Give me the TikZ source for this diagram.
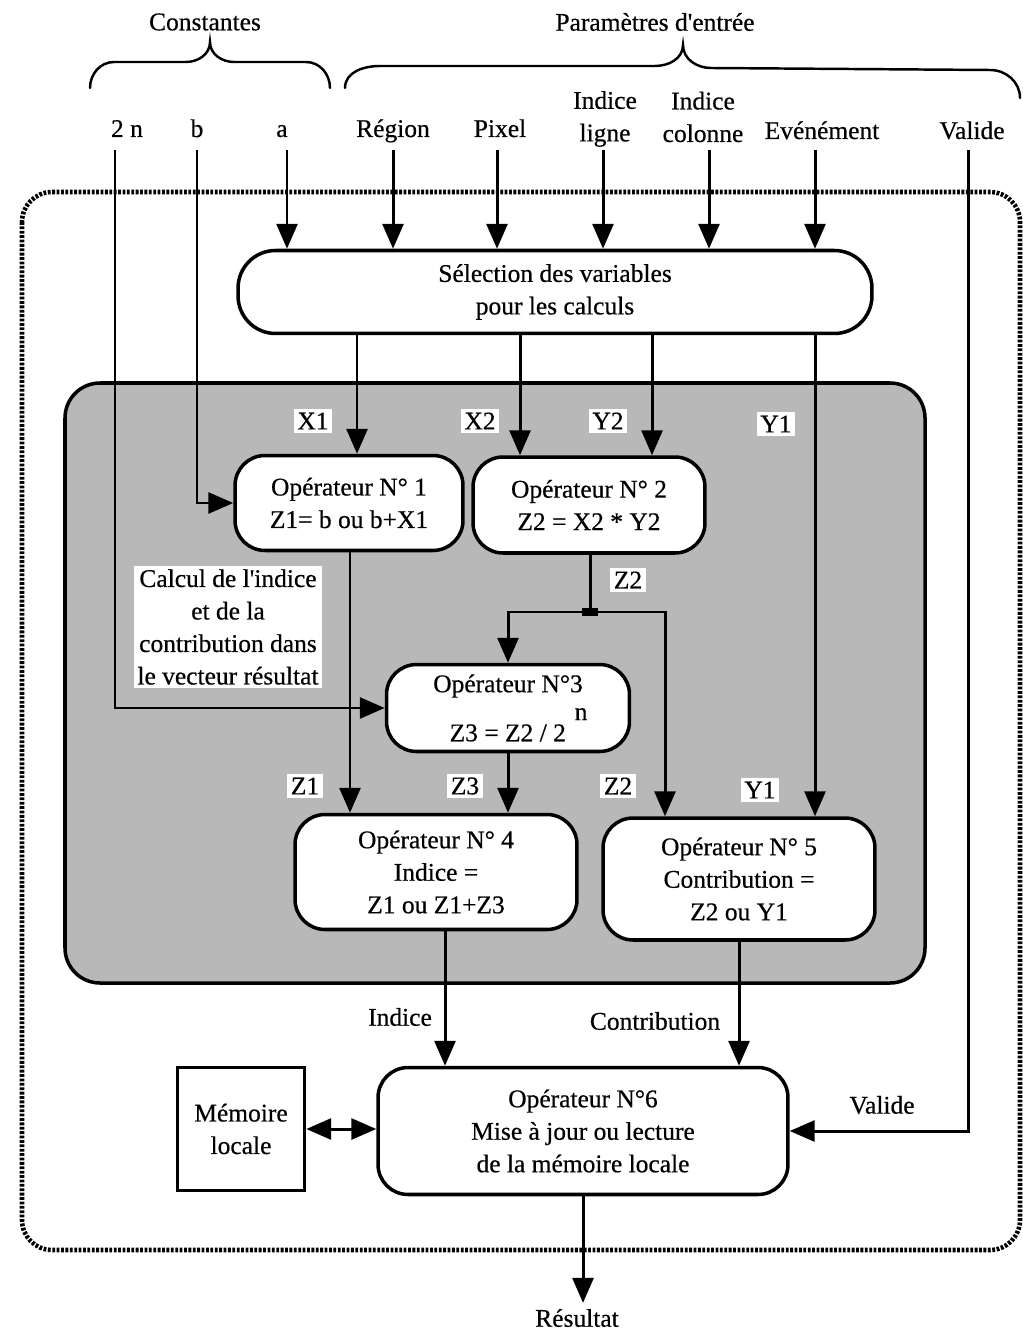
\documentclass[tikz,border=0pt]{standalone}
\usepackage{fontspec}
\setmainfont{Liberation Serif}[FakeBold=0.5]
\usetikzlibrary{positioning,arrows.meta,calc}

\begin{document}
\begin{tikzpicture}[
  x=0.02cm, y=-0.02cm,
  every node/.style={font=\fontsize{14.5}{18.5}\selectfont},
  op/.style={draw, line width=2pt, fill=white, rounded corners=0.6cm, align=center, inner sep=2pt},
  lbl/.style={fill=white, inner sep=2pt},
  inp/.style={anchor=base},
  arr/.style={-{Triangle[length=0.5cm, width=0.42cm]}, line width=1.7pt},
  wire/.style={line width=1.7pt},
  brace/.style={line width=1.4pt, line cap=round},
  frame/.style={line width=2.6pt, dash pattern=on 1.6pt off 0.9pt, rounded corners=0.6cm},
  zone/.style={draw, line width=2pt, fill=black!28, rounded corners=0.7cm}
]
  \useasboundingbox (0,0) rectangle (1022,1334);

  % Outer frame and computation zone
  \draw[frame] (22,192) rectangle (1020,1250);
  \draw[zone] (65,383) rectangle (925,983);

  % Headings and braces
  \node (hconst) at (205,22) {Constantes};
  \node (hparam) at (655,22) {Paramètres d\textquotesingle entrée};
  \draw[brace] (90,88) to[out=90,in=180] (114,62) -- (186,62) to[out=0,in=-90] (210,42)
    to[out=-90,in=180] (234,62) -- (306,62) to[out=0,in=90] (330,88);
  \draw[brace] (345,88) to[out=90,in=180] (380,66) -- (655,66) to[out=0,in=-90] (683,45)
    to[out=-90,in=180] (711,68) -- (990,70) to[out=0,in=90] (1020,98);

  % Inputs
  \node[inp] (c2n) at (127,137) {2 n};
  \node[inp] (cb) at (197,137) {b};
  \node[inp] (ca) at (282,137) {a};
  \node[inp] (preg) at (393,137) {Région};
  \node[inp] (ppix) at (500,137) {Pixel};
  \node[align=center] (plig) at (605,119) {Indice\\ligne};
  \node[align=center] (pcol) at (703,117) {Indice\\colonne};
  \node[inp] (pevt) at (822,139) {Evénément};
  \node[inp] (pval) at (972,139) {Valide};

  % Operators
  \node[op, minimum width=12.68cm, minimum height=1.66cm, rounded corners=0.75cm] (sel) at (555,292) {Sélection des variables\\pour les calculs};
  \node[op, minimum width=4.56cm, minimum height=1.9cm] (op1) at (349,503) {Opérateur N° 1\\Z1= b ou b+X1};
  \node[op, minimum width=4.64cm, minimum height=1.92cm] (op2) at (589,505) {Opérateur N° 2\\Z2 = X2 * Y2};
  \node[op, minimum width=4.86cm, minimum height=1.74cm] (op3) at (508,708) {Opérateur N°3\\[5pt]\hspace*{12pt}Z3 = Z2 / 2\hspace{5pt}\raisebox{12pt}{n}};
  \node[op, minimum width=5.64cm, minimum height=2.3cm] (op4) at (436,872) {Opérateur N° 4\\Indice =\\Z1 ou Z1+Z3};
  \node[op, minimum width=5.44cm, minimum height=2.44cm] (op5) at (739,879) {Opérateur N° 5\\Contribution =\\Z2 ou Y1};
  \node[op, minimum width=8.2cm, minimum height=2.54cm] (op6) at (583,1131) {Opérateur N°6\\Mise à jour ou lecture\\de la mémoire locale};
  \node[draw, line width=2pt, minimum width=2.54cm, minimum height=2.46cm, align=center] (mem) at (241,1129) {Mémoire\\locale};
  \node[lbl, align=center] (note) at (228,627) {Calcul de l\textquotesingle indice\\et de la\\contribution dans\\le vecteur résultat};
  \node[fill=black, minimum width=0.32cm, minimum height=0.16cm, inner sep=0pt] (jz) at (590,612) {};
  \node (res) at (577,1318) {Résultat};

  % Lanes
  \coordinate (v2n) at (115,150);
  \coordinate (vb) at (197,150);
  \coordinate (vval) at (968,150);
  \coordinate (lx1) at (357,0);
  \coordinate (lx2) at (520,0);
  \coordinate (ly2) at (652,0);
  \coordinate (ly1) at (815,0);
  \coordinate (lz1) at (350,0);
  \coordinate (lz2r) at (665,0);
  \coordinate (lind) at (445,0);

  % Input arrows
  \foreach \x/\n in {287/a,393/reg,497/pix,603/lig,709/col,815/evt}{
    \coordinate (in\n) at (\x,150);
    \draw[arr] (in\n) -- (sel.north -| in\n);
  }
  \draw[arr] (v2n) |- (op3.west);
  \draw[arr] (vb) |- (op1.west);
  \draw[arr] (vval) |- (op6.east);

  % Selected variables
  \draw[arr] (sel.south -| lx1) -- (op1.north -| lx1);
  \draw[arr] (sel.south -| lx2) -- (op2.north -| lx2);
  \draw[arr] (sel.south -| ly2) -- (op2.north -| ly2);
  \draw[arr] (sel.south -| ly1) -- (op5.north -| ly1);

  % Intermediate results
  \draw[arr] (op1.south -| lz1) -- (op4.north -| lz1);
  \draw[wire] (op2.south -| jz) -- (jz.center);
  \draw[arr] (jz.center) -| (op3.north);
  \draw[arr] (jz.center) -| (op5.north -| lz2r);
  \draw[arr] (op3.south) -- (op4.north -| op3.south);
  \draw[arr] (op4.south -| lind) -- (op6.north -| lind);
  \draw[arr] (op5.south) -- (op6.north -| op5.south);
  \draw[{Triangle[length=0.5cm, width=0.42cm]}-{Triangle[length=0.5cm, width=0.42cm]}, line width=1.7pt] (mem.east) -- (op6.west |- mem.east);
  \draw[arr] (op6.south) -- (op6.south |- res.north);

  % Signal labels
  \node[lbl] (tx1) at (313,421) {X1};
  \node[lbl] (tx2) at (480,421) {X2};
  \node[lbl] (ty2) at (608,421) {Y2};
  \node[lbl] (ty1) at (776,424) {Y1};
  \node[lbl] (tz2a) at (628,580) {Z2};
  \node[lbl] (tz1) at (305,786) {Z1};
  \node[lbl] (tz3) at (465,786) {Z3};
  \node[lbl] (tz2b) at (618,786) {Z2};
  \node[lbl] (ty1b) at (760,790) {Y1};
  \node (tind) at (400,1017) {Indice};
  \node (tcon) at (655,1021) {Contribution};
  \node (tval) at (882,1105) {Valide};
\end{tikzpicture}
\end{document}
